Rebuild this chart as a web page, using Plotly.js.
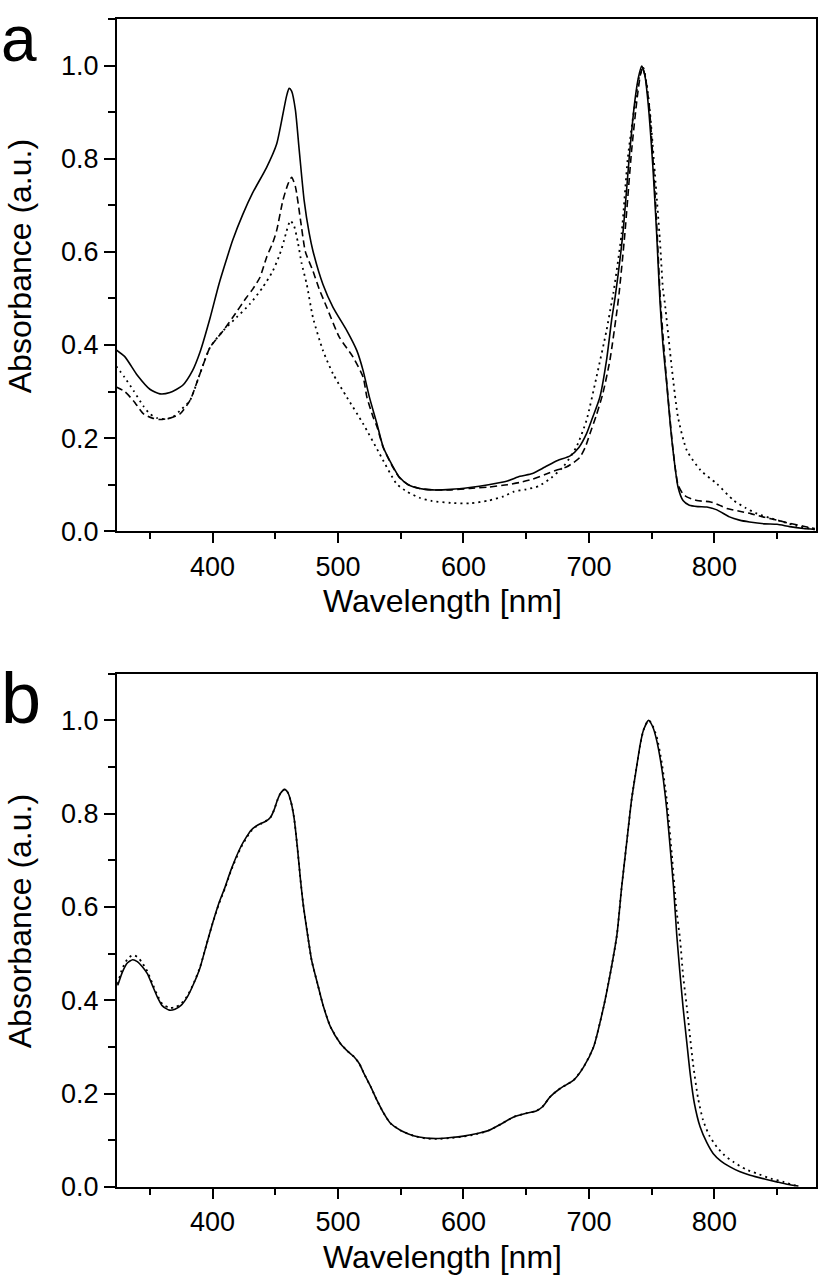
<!DOCTYPE html>
<html>
<head>
<meta charset="utf-8">
<script src="https://cdn.plot.ly/plotly-3.0.1.min.js"></script>
<style>
  html, body { margin: 0; padding: 0; background: #fff; }
  #chart { width: 820px; height: 1284px; }
</style>
</head>
<body>
<div id="chart"></div>
<script>
// ---------- Panel a ----------
const aSolidX = [323,330,340,350,358,366,376,384,390,398,405,411,416,424,432,443,451,456,459,461,463,466,469,473,477,480,488,496,507,515,520,525,531,536,544,549,556,565,575,590,605,620,635,645,655,665,675,685,692,698,703,708.7,714,718,721,727,732.6,736.6,739.5,742,744.5,747,751,754,756.6,759,762,765,767,771,775,780,787,794,802,812,820,828,840,850,860,871,880];
const aSolidY = [0.390,0.375,0.335,0.305,0.295,0.298,0.313,0.345,0.385,0.458,0.530,0.583,0.625,0.680,0.727,0.781,0.831,0.895,0.935,0.951,0.945,0.905,0.820,0.710,0.640,0.602,0.530,0.481,0.431,0.388,0.345,0.288,0.231,0.181,0.138,0.116,0.100,0.092,0.089,0.090,0.094,0.100,0.108,0.118,0.124,0.138,0.152,0.162,0.180,0.209,0.245,0.288,0.367,0.452,0.505,0.638,0.817,0.924,0.975,0.999,0.980,0.924,0.781,0.638,0.495,0.400,0.317,0.225,0.174,0.095,0.066,0.056,0.053,0.052,0.046,0.031,0.024,0.020,0.016,0.015,0.010,0.006,0.004];

const aDashX = [323,330,337,345,352,358,366,374,382,390,398,408.5,416,427,432,437.7,443,448,451,456,460,463,466,470,474,480,485,491,501,512,520,523,528,531,536,544,549,556,565,575,590,605,620,635,645,655,665,675,682,688,692.8,697,700.7,706,711,716.7,722,724,728.6,734,738.5,741,742.8,745,748,751,754,757,762,767,771,775,778,786,797,805,810,820,829,840,850,860,871,880];
const aDashY = [0.310,0.300,0.280,0.252,0.243,0.240,0.243,0.252,0.281,0.339,0.395,0.431,0.459,0.502,0.520,0.545,0.588,0.620,0.645,0.710,0.745,0.760,0.740,0.670,0.600,0.559,0.520,0.481,0.417,0.374,0.331,0.288,0.245,0.225,0.180,0.136,0.115,0.100,0.092,0.089,0.089,0.092,0.095,0.100,0.105,0.112,0.122,0.132,0.138,0.148,0.159,0.180,0.209,0.250,0.295,0.367,0.467,0.510,0.638,0.817,0.932,0.980,0.995,0.975,0.915,0.800,0.660,0.495,0.320,0.176,0.100,0.080,0.074,0.066,0.063,0.055,0.049,0.043,0.038,0.030,0.024,0.017,0.011,0.006];

const aDotX = [323,330,337,345,350,356,363,368,374,382,390,398,408.5,419,429.7,440,448,453.6,457,459,462,465,468,471,475,480,488,496,507,520,533,546.7,555,565,575,590,605,620,632,640,650,660,670,680,690,698,706,714,718,719.4,726,731,736.6,740,743.3,746,748.6,752.6,756.6,759,760.5,766,771,778,789,802,815.5,825,834,845,855,865,876,880];
const aDotY = [0.355,0.330,0.302,0.268,0.252,0.243,0.241,0.245,0.259,0.281,0.339,0.395,0.431,0.459,0.488,0.524,0.559,0.595,0.625,0.645,0.667,0.655,0.620,0.575,0.531,0.459,0.388,0.338,0.288,0.231,0.167,0.102,0.085,0.072,0.065,0.061,0.060,0.066,0.075,0.085,0.090,0.097,0.115,0.140,0.181,0.238,0.331,0.431,0.490,0.510,0.638,0.802,0.917,0.975,0.995,0.960,0.902,0.767,0.624,0.520,0.490,0.352,0.245,0.174,0.131,0.102,0.066,0.050,0.038,0.028,0.020,0.012,0.006,0.004];

// ---------- Panel b ----------
const bSolidX = [324.4,328,332,336.3,340,344,348,352,356,360,365.5,370,374.8,380,385,390,395,400,405,410,414.6,422.5,427,430.5,434,438.4,442,446.4,449,451.7,454,457.5,460,462.5,465,467.5,470,472.5,475.6,479,483.6,488,494,502,508,512.7,517,520.7,526,531,536,542,550,560,570,580,590,600,610,620,630,640,650,658,663,669,677,687.8,695.7,703.7,711.7,717,722.3,726,730.3,734,738,741,743.5,747.5,751,754,757,759.4,762,764.7,767.5,770,772.5,775,778,780.7,784,788.6,794,799,805,812.5,820,828.5,840,849.7,858,867];
const bSolidY = [0.432,0.460,0.480,0.487,0.483,0.472,0.457,0.432,0.407,0.388,0.379,0.381,0.389,0.408,0.436,0.470,0.518,0.565,0.608,0.643,0.679,0.729,0.750,0.764,0.772,0.779,0.783,0.793,0.808,0.829,0.843,0.852,0.845,0.825,0.790,0.730,0.660,0.600,0.543,0.485,0.436,0.390,0.343,0.307,0.290,0.279,0.264,0.243,0.215,0.186,0.160,0.136,0.121,0.110,0.105,0.104,0.106,0.109,0.114,0.121,0.135,0.150,0.158,0.163,0.172,0.193,0.211,0.229,0.257,0.300,0.386,0.457,0.540,0.640,0.743,0.830,0.900,0.950,0.979,1.000,0.985,0.957,0.915,0.871,0.810,0.729,0.640,0.540,0.460,0.386,0.310,0.243,0.180,0.129,0.095,0.072,0.056,0.043,0.033,0.025,0.017,0.011,0.006,0.002];

const bDotX = [324.4,328,332,336.3,340,344,348,352,356,360,365.5,370,374.8,380,385,390,395,400,405,410,414.6,422.5,427,430.5,434,438.4,442,446.4,449,451.7,454,457.5,460,462.5,465,467.5,470,472.5,475.6,479,483.6,488,494,502,508,512.7,517,520.7,526,531,536,542,550,560,570,580,590,600,610,620,630,640,650,658,663,669,677,687.8,695.7,703.7,711.7,717,722.3,726,730.3,734,738,741,743.5,747.5,750,754,758,762,766,769.5,772.7,775,778,783,787,791,796,801.9,808,815,825,833.7,845,855,862,867];
const bDotY = [0.435,0.468,0.488,0.497,0.493,0.480,0.462,0.436,0.411,0.392,0.384,0.385,0.392,0.410,0.437,0.471,0.518,0.565,0.606,0.641,0.677,0.727,0.748,0.762,0.771,0.778,0.783,0.793,0.808,0.829,0.843,0.852,0.845,0.825,0.790,0.730,0.660,0.600,0.543,0.485,0.436,0.390,0.343,0.307,0.290,0.279,0.264,0.243,0.215,0.186,0.160,0.136,0.121,0.110,0.104,0.103,0.105,0.108,0.113,0.121,0.135,0.150,0.158,0.163,0.172,0.193,0.211,0.229,0.257,0.300,0.386,0.457,0.540,0.640,0.743,0.830,0.900,0.950,0.979,1.000,0.993,0.965,0.910,0.830,0.715,0.600,0.529,0.455,0.386,0.264,0.190,0.143,0.110,0.086,0.068,0.054,0.038,0.029,0.018,0.011,0.005,0.002];

const yTickVals = [0.0,0.2,0.4,0.6,0.8,1.0];
const yTickText = ['0.0','0.2','0.4','0.6','0.8','1.0'];
const xTickVals = [400,500,600,700,800];
const xTickText = ['400','500','600','700','800'];
const xLabel = 'Wavelength [nm]';
const yLabel = 'Absorbance (a.u.)';
const panelLabels = ['a','b'];

const FONT = 'Liberation Sans, Arial, Helvetica, sans-serif';
const solidLine = {color:'#000', width:1.6};
const dashLine = {color:'#000', width:1.6, dash:'7px,4px'};
const dotLine = {color:'#000', width:1.8, dash:'2px,4px'};

const traces = [
  {x:aSolidX, y:aSolidY, xaxis:'x', yaxis:'y', mode:'lines', line:solidLine, name:'a solid'},
  {x:aDashX, y:aDashY, xaxis:'x', yaxis:'y', mode:'lines', line:dashLine, name:'a dashed'},
  {x:aDotX, y:aDotY, xaxis:'x', yaxis:'y', mode:'lines', line:dotLine, name:'a dotted'},
  {x:bSolidX, y:bSolidY, xaxis:'x2', yaxis:'y2', mode:'lines', line:solidLine, name:'b solid'},
  {x:bDotX, y:bDotY, xaxis:'x2', yaxis:'y2', mode:'lines', line:dotLine, name:'b dotted'}
];
traces.forEach(t => { t.line = Object.assign({shape:'spline', smoothing:0.6}, t.line); });

function xAxis(anchor) {
  return {
    anchor: anchor, domain:[0,1], range:[323.8, 881],
    showline:true, mirror:true, linecolor:'#000', linewidth:2,
    ticks:'outside', ticklen:10, tickwidth:2, tickcolor:'#000',
    tickmode:'array', tickvals:xTickVals, ticktext:xTickText,
    tickfont:{family:FONT, size:27, color:'#000'},
    minor:{tickmode:'linear', tick0:0, dtick:50, ticks:'outside', ticklen:6, tickwidth:2, tickcolor:'#000', showgrid:false},
    showgrid:false, zeroline:false, fixedrange:true
  };
}
function yAxis(anchor, domain) {
  return {
    anchor: anchor, domain: domain, range:[0, 1.1],
    showline:true, mirror:true, linecolor:'#000', linewidth:2,
    ticks:'outside', ticklen:11, tickwidth:2, tickcolor:'#000',
    tickmode:'array', tickvals:yTickVals, ticktext:yTickText,
    tickfont:{family:FONT, size:27, color:'#000'},
    minor:{tickmode:'linear', tick0:0, dtick:0.1, ticks:'outside', ticklen:7, tickwidth:2, tickcolor:'#000', showgrid:false},
    showgrid:false, zeroline:false, fixedrange:true
  };
}

const W = 698.7, H = 1168, BOT = 1186.7;
function px2x(px){ return (px - 117) / W; }
function py2y(py){ return (BOT - py) / H; }

const annotations = [
  {text:xLabel, xref:'paper', yref:'paper', x:px2x(442.5), y:py2y(601), xanchor:'center', yanchor:'middle', showarrow:false, font:{family:FONT, size:32, color:'#000'}},
  {text:xLabel, xref:'paper', yref:'paper', x:px2x(442.5), y:py2y(1257), xanchor:'center', yanchor:'middle', showarrow:false, font:{family:FONT, size:32, color:'#000'}},
  {text:yLabel, xref:'paper', yref:'paper', x:px2x(20), y:py2y(266), xanchor:'center', yanchor:'middle', textangle:-90, showarrow:false, font:{family:FONT, size:32, color:'#000'}},
  {text:yLabel, xref:'paper', yref:'paper', x:px2x(20), y:py2y(921), xanchor:'center', yanchor:'middle', textangle:-90, showarrow:false, font:{family:FONT, size:32, color:'#000'}},
  {text:panelLabels[0], xref:'paper', yref:'paper', x:px2x(-1), y:py2y(39), xanchor:'left', yanchor:'middle', showarrow:false, font:{family:FONT, size:64, color:'#000'}},
  {text:panelLabels[1], xref:'paper', yref:'paper', x:px2x(-1), y:py2y(698), xanchor:'left', yanchor:'middle', showarrow:false, font:{family:FONT, size:72, color:'#000'}}
];

const layout = {
  width:820, height:1284,
  margin:{l:117, r:4.3, t:18.7, b:97.3, pad:0},
  paper_bgcolor:'#fff', plot_bgcolor:'#fff',
  showlegend:false,
  font:{family:FONT, size:27, color:'#000'},
  xaxis: xAxis('y'),
  yaxis: yAxis('x', [py2y(531), 1]),
  xaxis2: xAxis('y2'),
  yaxis2: yAxis('x2', [0, py2y(673.3)]),
  annotations: annotations
};

Plotly.newPlot('chart', traces, layout, {displayModeBar:false, staticPlot:true});
</script>
</body>
</html>
